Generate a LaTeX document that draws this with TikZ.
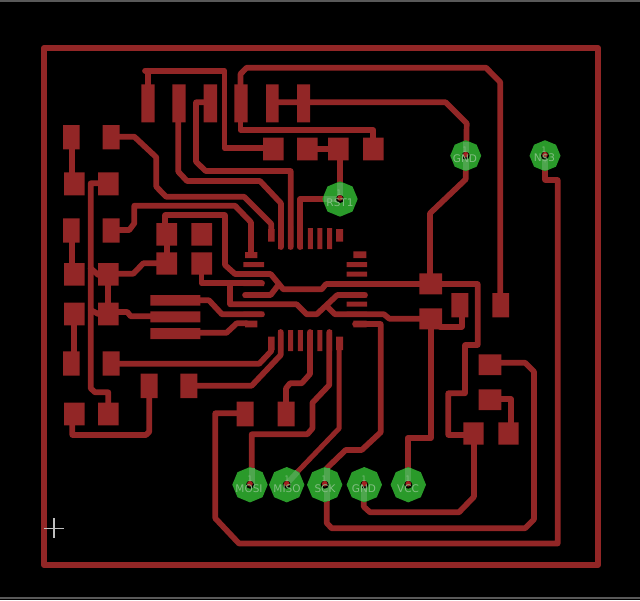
\documentclass[tikz,border=0pt]{standalone}
\usepackage{fontspec}
\setmainfont{DejaVu Sans}
\usetikzlibrary{shapes.geometric}
\definecolor{pcbred}{HTML}{922626}
\definecolor{viagreen}{HTML}{2A9A2A}
\definecolor{viastub}{HTML}{4EA64E}
\definecolor{vialabel}{HTML}{82BE82}
\tikzset{
  board/.style={draw=pcbred,line width=6pt,line join=round},
  track/.style={draw=pcbred,line width=5.7pt,line join=round,line cap=round},
  thintrack/.style={draw=pcbred,line width=5pt,line join=round,line cap=round},
  padfill/.style={fill=pcbred},
  viabig/.style={regular polygon,regular polygon sides=8,shape border rotate=22.5,fill=viagreen,draw=none,inner sep=0pt,minimum size=35.4pt},
  viasmall/.style={viabig,minimum size=31pt},
  stub/.style={draw=viastub,line width=5.7pt},
  hole/.style={fill=black},
  holered/.style={fill=pcbred!85!red},
  vlabel/.style={text=vialabel,font=\fontsize{10.5}{10.5}\selectfont,inner sep=0pt},
  vone/.style={text=vialabel,font=\fontsize{7.5}{7.5}\selectfont,inner sep=0pt},
  cross/.style={draw=white!75!black,line width=1.6pt}
}
\newcommand{\viadot}[2]{%
  \fill[hole] (#1,#2) circle (4pt);
  \fill[holered] (#1,#2-1) circle (2.8pt);
}
\begin{document}
\begin{tikzpicture}[x=1pt,y=-1pt]
\fill[black] (0,0) rectangle (640,600);
\useasboundingbox (0,0) rectangle (640,600);
\fill[white!35!black] (0,0) rectangle (640,1.6);
\fill[white!35!black] (0,597) rectangle (640,598.5);
% board outline
\draw[board] (44,48) rectangle (598,565);
% tracks
\draw[track] (145,70.7) -- (224.5,70.7) -- (224.5,148.3) -- (265,148.3);
\draw[track] (148.3,70.7) -- (148.3,86);
\draw[track] (178.3,120) -- (178.3,171.7) -- (187,181) -- (260,181) -- (281,203.3) -- (281,247);
\draw[track] (205,102.3) -- (196,102.3) -- (196,161.7) -- (205.7,171) -- (290.7,171) -- (290.7,247);
\draw[track] (338,199) -- (300.2,199) -- (300.2,247);
\draw[track] (118,136.7) -- (134.3,136.7) -- (156.3,157.3) -- (156.3,186.7) -- (166,196.7) -- (244,196.7) -- (271.3,224) -- (271.3,231);
\draw[track] (118,230) -- (129.3,230) -- (134.3,223.3) -- (134.3,205.7) -- (235,205.7) -- (251,222.3) -- (251,254);
\draw[track] (165,225) -- (165,215) -- (225,215) -- (225,265) -- (235,274) -- (270.7,274) -- (283.3,289.3) -- (321.7,289.3) -- (326,284) -- (477.7,284) -- (477.7,345) -- (465,345) -- (465,393.3) -- (448.3,393.3) -- (448.3,435) -- (465,435);
\draw[track] (201.5,272) -- (201.5,283.3) -- (262,283.3);
\draw[track] (230,283.3) -- (230,304.3) -- (296.7,304.3) -- (306.7,314.3) -- (316.7,314.3) -- (337.3,295) -- (365,295);
\draw[track] (245,295) -- (270.7,295) -- (278.3,285);
\draw[track] (198,300.3) -- (209,300.3) -- (222,314.3) -- (262,314.3);
\draw[track] (117,312) -- (127.3,312) -- (130.7,316.3) -- (152,316.3);
\draw[track] (198,332.8) -- (226.5,332.8) -- (236.7,323.3) -- (247,323.3);
\draw[track] (328,307.3) -- (335,314.3) -- (384,314.3) -- (389.3,318.7) -- (421,318.7);
\draw[track] (440,326.7) -- (461.7,326.7) -- (461.7,315);
\draw[track] (430.7,327) -- (430.7,438) -- (407.7,438) -- (407.7,470);
\draw[track] (430,275) -- (430,213.3) -- (465.7,179.3) -- (466.7,123.3) -- (445.7,102.3) -- (272,102.3);
\draw[track] (500.3,295) -- (500.3,82.3) -- (486,67.7) -- (246.7,67.7) -- (240.5,74) -- (240.5,86);
\draw[track] (240.5,120) -- (240.5,130) -- (373.3,130) -- (373.3,140);
\draw[track] (545,155.7) -- (545,180) -- (557.7,180) -- (557.7,543.5) -- (239,543.5) -- (215.3,518.3) -- (215.3,413.3) -- (238,413.3);
\draw[track] (251.7,484) -- (251.7,434.3) -- (307.3,434.3) -- (312.5,428.3) -- (312.5,402.7) -- (329.3,385) -- (329.3,332);
\draw[track] (310,332) -- (310,374) -- (301.7,383.3) -- (290,383.3) -- (286,388.3) -- (286,403);
\draw[track] (280.7,332) -- (280.7,355) -- (251.7,385.7) -- (196,385.7);
\draw[track] (271.3,348) -- (271.3,351) -- (259.3,363.7) -- (118,363.7);
\draw[thintrack] (339.2,340) -- (339.2,428.3) -- (286.7,483);
\draw[track] (355,324) -- (380.7,324) -- (380.7,432.3) -- (361.7,450) -- (345.7,450) -- (326.7,468.3) -- (326.7,523) -- (331.7,528.3) -- (525,528.3) -- (534,519.3) -- (534,371.7) -- (525,362.7) -- (500,362.7);
\draw[track] (500,399.3) -- (511,399.3) -- (511,424);
\draw[track] (474,443) -- (474,496.7) -- (459,512.3) -- (370,512.3) -- (363.8,506.7) -- (363.8,484);
\draw[track] (71.7,148) -- (71.7,173);
\draw[track] (99,183.3) -- (90.7,183.3) -- (90.7,388.3) -- (95,392.3) -- (108.3,392.3) -- (108.3,403);
\draw[track] (90.7,268.3) -- (98.3,275);
\draw[track] (90.7,310) -- (98.3,314);
\draw[track] (71.7,241) -- (71.7,264);
\draw[track] (74.3,324) -- (74.3,352);
\draw[track] (108.3,284) -- (108.3,304);
\draw[track] (117,273.7) -- (133.3,273.7) -- (143.3,263.3) -- (158,263.3);
\draw[track] (166.7,244) -- (166.7,253);
\draw[track] (72.3,424) -- (72.3,435) -- (146,435) -- (149.3,431.7) -- (149.3,397);
\draw[track] (316,148.7) -- (329,148.7);
\draw[track] (340,159) -- (340,199);
% pads
\fill[padfill] (141.3,84.3) rectangle (154.7,122.3)
 (172.3,84.3) rectangle (185.7,122.3)
 (203.7,84.3) rectangle (217,122.3)
 (234.3,84.3) rectangle (247.7,122.3)
 (266,84.3) rectangle (278.7,122.3)
 (297,84.3) rectangle (310,122.3)
 (63,125) rectangle (79.7,149.3)
 (102.7,125) rectangle (119.7,149.3)
 (64,172.3) rectangle (84.7,195.3)
 (98,172.3) rectangle (118.7,195.3)
 (63,218.3) rectangle (79.7,242.7)
 (102.7,218.3) rectangle (119.7,242.7)
 (156.3,223) rectangle (177,245.7)
 (191.3,223) rectangle (212,245.7)
 (64,263) rectangle (84.7,285.7)
 (98,263) rectangle (118.7,285.7)
 (156.3,252.3) rectangle (177,274.7)
 (191.3,252.3) rectangle (212,274.7)
 (64,302.7) rectangle (84.7,325.3)
 (98,302.7) rectangle (118.7,325.3)
 (150.3,295) rectangle (200.3,305.7)
 (150.3,311.3) rectangle (200.3,322.3)
 (150.3,328) rectangle (200.3,339)
 (63,351.3) rectangle (79.7,375.7)
 (102.7,351.3) rectangle (119.7,375.7)
 (140.7,373.7) rectangle (157.7,398)
 (180.3,373.7) rectangle (197.3,398)
 (64,402.7) rectangle (84.7,425.3)
 (98,402.7) rectangle (118.7,425.3)
 (263,137.7) rectangle (283.7,160.3)
 (297,137.7) rectangle (317.7,160.3)
 (328,137.7) rectangle (348.7,160.3)
 (363,137.7) rectangle (383.7,160.3)
 (419.3,273.3) rectangle (442,294.3)
 (419.3,308.3) rectangle (442,329.3)
 (451.3,293) rectangle (468.3,317.3)
 (492.3,293) rectangle (509,317.3)
 (478.7,354.3) rectangle (501.3,375)
 (478.7,389.3) rectangle (501.3,410)
 (463.3,422.3) rectangle (483.7,444.7)
 (498.3,422.3) rectangle (518.7,444.7)
 (236.7,401.7) rectangle (253.7,426.3)
 (277.7,401.7) rectangle (294.7,426.3);
% IC pins
\fill[padfill]
 (278.2,226) rectangle (283.2,249)
 (288,226) rectangle (293,249)
 (297.8,226) rectangle (302.8,249)
 (307.8,228) rectangle (312.8,249)
 (317.3,228) rectangle (322.3,249)
 (327,228) rectangle (332,249)
 (268,229) rectangle (274.7,241.7)
 (336,229) rectangle (343,241.7)
 (278.2,330) rectangle (283.2,351)
 (288,330) rectangle (293,351)
 (297.8,330) rectangle (302.8,351)
 (307.8,330) rectangle (312.8,351)
 (317.3,330) rectangle (322.3,351)
 (327,330) rectangle (332,351)
 (268,336.7) rectangle (274.7,350)
 (336,336.7) rectangle (343,350)
 (245,252) rectangle (257.3,258)
 (243.3,262) rectangle (264,267)
 (243.3,281) rectangle (264,286)
 (243.3,292.5) rectangle (264,297.5)
 (243.3,311.7) rectangle (264,316.7)
 (245,320.7) rectangle (257.3,327.3)
 (353.3,251.3) rectangle (366.3,258)
 (346.7,262) rectangle (367,267)
 (346.7,271.7) rectangle (367,276.7)
 (346.7,281.5) rectangle (367,286.5)
 (346.7,292.5) rectangle (367,297.5)
 (346.7,301.7) rectangle (367,306.7)
 (346.7,311.7) rectangle (367,316.7)
 (353.3,320.7) rectangle (366.7,327.3);
% vias
\node[viabig] (rst) at (340,199) {};
\node[viasmall] (gndtop) at (465.7,155.7) {};
\node[viasmall] (nthree) at (545,155.7) {};
\node[viabig] (mosi) at (250,484.7) {};
\node[viabig] (miso) at (286.7,484.7) {};
\node[viabig] (sck) at (324.7,484.7) {};
\node[viabig] (gnd) at (364.3,484.7) {};
\node[viabig] (vcc) at (408.3,484.7) {};
% tracks seen through the vias
\draw[stub] (340,183) -- (340,199);
\draw[stub] (324,199) -- (340,199);
\draw[stub] (466,142) -- (466,170);
\draw[stub] (545,155.7) -- (545,170);
\draw[stub] (251.7,468) -- (251.7,484.7);
\draw[stub] (297.5,472) -- (287,483.5);
\draw[stub] (326.7,468) -- (326.7,501);
\draw[stub] (363.8,484.7) -- (363.8,501);
\draw[stub] (407.7,468) -- (407.7,484.7);
% holes
\viadot{340}{199}\viadot{465.7}{155.7}\viadot{545}{155.7}
\viadot{250}{484.7}\viadot{286.7}{484.7}\viadot{324.7}{484.7}\viadot{364.3}{484.7}\viadot{408.3}{484.7}
% labels
\node[vone] (rstone) at (339,193) {1};
\node[vone] (gndone) at (465,150) {1};
\node[vone] (nthreeone) at (544,150) {1};
\node[vone] (mosione) at (250,479) {1};
\node[vone] (misoone) at (287,479) {1};
\node[vone] (sckone) at (324,479) {1};
\node[vone] (gndbone) at (364,479) {1};
\node[vone] (vccone) at (408,479) {1};
\node[vlabel] (rstl) at (340,203) {RST1};
\node[vlabel] (gndl) at (465,158.5) {GND};
\node[vlabel] (nthreel) at (544.5,158.5) {N\$3};
\node[vlabel] (mosil) at (249,488.5) {MOSI};
\node[vlabel] (misol) at (287,488.5) {MISO};
\node[vlabel] (sckl) at (325,488.5) {SCK};
\node[vlabel] (gndbl) at (364,488.5) {GND};
\node[vlabel] (vccl) at (408,488.5) {VCC};
% origin cross
\draw[cross] (44,528.3) -- (64,528.3);
\draw[cross] (54,518.3) -- (54,538.3);
\end{tikzpicture}
\end{document}
